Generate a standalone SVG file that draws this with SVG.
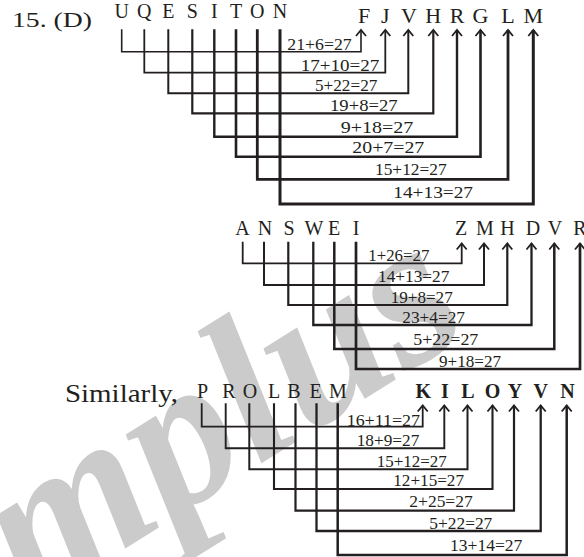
<svg xmlns="http://www.w3.org/2000/svg" width="584" height="557" viewBox="0 0 584 557">
<style>
text{font-family:"Liberation Serif","DejaVu Serif",serif;fill:#231f20}
.L{font-size:20px;text-anchor:middle}
.R{font-size:22px;text-anchor:middle}
.B{font-size:20px;text-anchor:middle;font-weight:bold}
.n{font-size:16px}
.c path{fill:none;stroke:#231f20;stroke-linejoin:miter;marker-end:url(#ah)}
.wm{font-size:210px;font-weight:bold;font-style:italic;fill:#cbcbcb}
</style>
<defs>
<marker id="ah" markerUnits="userSpaceOnUse" orient="auto" refX="0" refY="0" overflow="visible" markerWidth="10" markerHeight="12">
<path d="M-6,-5 L0,0 L-6,5" fill="none" stroke="#231f20" stroke-width="1.8"/>
</marker>
</defs>
<rect width="584" height="557" fill="#ffffff"/>
<text class="wm" transform="translate(30,608) rotate(-32)">mplus</text>

<text x="12" y="26.7" font-size="22" textLength="80" lengthAdjust="spacingAndGlyphs">15. (D)</text>

<g id="top-left-letters">
<text class="L" x="121.7" y="18.3">U</text><text class="L" x="144.3" y="18.3">Q</text><text class="L" x="168.3" y="18.3">E</text><text class="L" x="192.3" y="18.3">S</text><text class="L" x="214.3" y="18.3">I</text><text class="L" x="236" y="18.3">T</text><text class="L" x="257.3" y="18.3">O</text><text class="L" x="280" y="18.3">N</text>
</g>
<g id="top-right-letters">
<text class="R" x="364" y="22.7">F</text><text class="R" x="385.3" y="22.7">J</text><text class="R" x="409" y="22.7">V</text><text class="R" x="433.3" y="22.7">H</text><text class="R" x="457" y="22.7">R</text><text class="R" x="480.5" y="22.7">G</text><text class="R" x="508" y="22.7">L</text><text class="R" x="533.3" y="22.7">M</text>
</g>

<g id="connectors" class="c">
<path d="M121.7 29.3V51.7H361V30" stroke-width="1.6"/>
<path d="M144.3 29.3V72.7H385.3V30" stroke-width="1.8"/>
<path d="M168.3 29.3V93.3H408.3V30" stroke-width="2"/>
<path d="M192.3 29.3V113.3H433.3V30" stroke-width="2.2"/>
<path d="M214.3 29.3V136.7H457V30" stroke-width="2.4"/>
<path d="M236 29.3V156.7H480.5V30" stroke-width="2.6"/>
<path d="M257.3 29.3V179.3H508V30" stroke-width="2.8"/>
<path d="M280 29.3V204H533.3V30" stroke-width="3"/>

<path d="M242.7 241.7V263.3H461.7V243.5" stroke-width="1.8"/>
<path d="M264 241.7V285H484V243.5" stroke-width="2"/>
<path d="M288.3 241.7V305H507.3V243.5" stroke-width="2.2"/>
<path d="M313.3 241.7V325H531.5V243.5" stroke-width="2.3"/>
<path d="M334.3 241.7V349H554.3V243.5" stroke-width="2.5"/>
<path d="M356 241.7V369H580V243.5" stroke-width="2.7"/>

<path d="M201.7 403.3V426.7H422.7V405.5" stroke-width="1.8"/>
<path d="M225.7 403.3V448.3H444.3V405.5" stroke-width="1.9"/>
<path d="M249.3 403.3V469.3H467.5V405.5" stroke-width="2"/>
<path d="M274 403.3V489H492.5V405.5" stroke-width="2.1"/>
<path d="M295.5 403.3V510.7H514V405.5" stroke-width="2.2"/>
<path d="M316.5 403.3V531H540.7V405.5" stroke-width="2.3"/>
<path d="M337.7 403.3V555H566.7V405.5" stroke-width="2.5"/>
</g>

<g id="top-labels">
<text class="n" x="287.3" y="50" textLength="64.4" lengthAdjust="spacingAndGlyphs">21+6=27</text>
<text class="n" x="300.7" y="71" textLength="78.6" lengthAdjust="spacingAndGlyphs">17+10=27</text>
<text class="n" x="315" y="90.7" textLength="62.3" lengthAdjust="spacingAndGlyphs">5+22=27</text>
<text class="n" x="330" y="110.5" textLength="67.7" lengthAdjust="spacingAndGlyphs">19+8=27</text>
<text class="n" x="340.7" y="132.7" textLength="72.6" lengthAdjust="spacingAndGlyphs">9+18=27</text>
<text class="n" x="352.3" y="152.7" textLength="72" lengthAdjust="spacingAndGlyphs">20+7=27</text>
<text class="n" x="375" y="175" textLength="71.7" lengthAdjust="spacingAndGlyphs">15+12=27</text>
<text class="n" x="393.3" y="198" textLength="79.7" lengthAdjust="spacingAndGlyphs">14+13=27</text>
</g>

<g id="mid-left-letters">
<text class="L" x="242.5" y="235">A</text><text class="L" x="265" y="235">N</text><text class="L" x="289" y="235">S</text><text class="L" x="314" y="235">W</text><text class="L" x="334" y="235">E</text><text class="L" x="356" y="235">I</text>
</g>
<g id="mid-right-letters">
<text class="L" x="461" y="235">Z</text><text class="L" x="485" y="235">M</text><text class="L" x="507.5" y="235">H</text><text class="L" x="533" y="235">D</text><text class="L" x="555" y="235">V</text><text class="L" x="580" y="235">R</text>
</g>
<g id="mid-labels">
<text class="n" x="368.3" y="261" textLength="61" lengthAdjust="spacingAndGlyphs">1+26=27</text>
<text class="n" x="378" y="281.7" textLength="71.3" lengthAdjust="spacingAndGlyphs">14+13=27</text>
<text class="n" x="390.7" y="303.3" textLength="62" lengthAdjust="spacingAndGlyphs">19+8=27</text>
<text class="n" x="402.3" y="323.3" textLength="62.7" lengthAdjust="spacingAndGlyphs">23+4=27</text>
<text class="n" x="413.3" y="345" textLength="65" lengthAdjust="spacingAndGlyphs">5+22=27</text>
<text class="n" x="439" y="366.7" textLength="62" lengthAdjust="spacingAndGlyphs">9+18=27</text>
</g>

<text x="65" y="401.7" font-size="25" textLength="113" lengthAdjust="spacingAndGlyphs">Similarly,</text>
<g id="bot-left-letters">
<text class="L" x="202.5" y="398.3">P</text><text class="L" x="229" y="398.3">R</text><text class="L" x="250" y="398.3">O</text><text class="L" x="274" y="398.3">L</text><text class="L" x="294" y="398.3">B</text><text class="L" x="315.7" y="398.3">E</text><text class="L" x="338" y="398.3">M</text>
</g>
<g id="bot-right-letters">
<text class="B" x="423.3" y="398.3">K</text><text class="B" x="445" y="398.3">I</text><text class="B" x="468" y="398.3">L</text><text class="B" x="492.5" y="398.3">O</text><text class="B" x="515" y="398.3">Y</text><text class="B" x="540.7" y="398.3">V</text><text class="B" x="567.5" y="398.3">N</text>
</g>
<g id="bot-labels">
<text class="n" x="346.7" y="425.7" textLength="73.3" lengthAdjust="spacingAndGlyphs">16+11=27</text>
<text class="n" x="356.7" y="445.5" textLength="62.6" lengthAdjust="spacingAndGlyphs">18+9=27</text>
<text class="n" x="376.7" y="466.7" textLength="70" lengthAdjust="spacingAndGlyphs">15+12=27</text>
<text class="n" x="393.3" y="486" textLength="70.7" lengthAdjust="spacingAndGlyphs">12+15=27</text>
<text class="n" x="409.3" y="507.3" textLength="63.4" lengthAdjust="spacingAndGlyphs">2+25=27</text>
<text class="n" x="429.3" y="529" textLength="63" lengthAdjust="spacingAndGlyphs">5+22=27</text>
<text class="n" x="450" y="550.7" textLength="72.3" lengthAdjust="spacingAndGlyphs">13+14=27</text>
</g>
</svg>
